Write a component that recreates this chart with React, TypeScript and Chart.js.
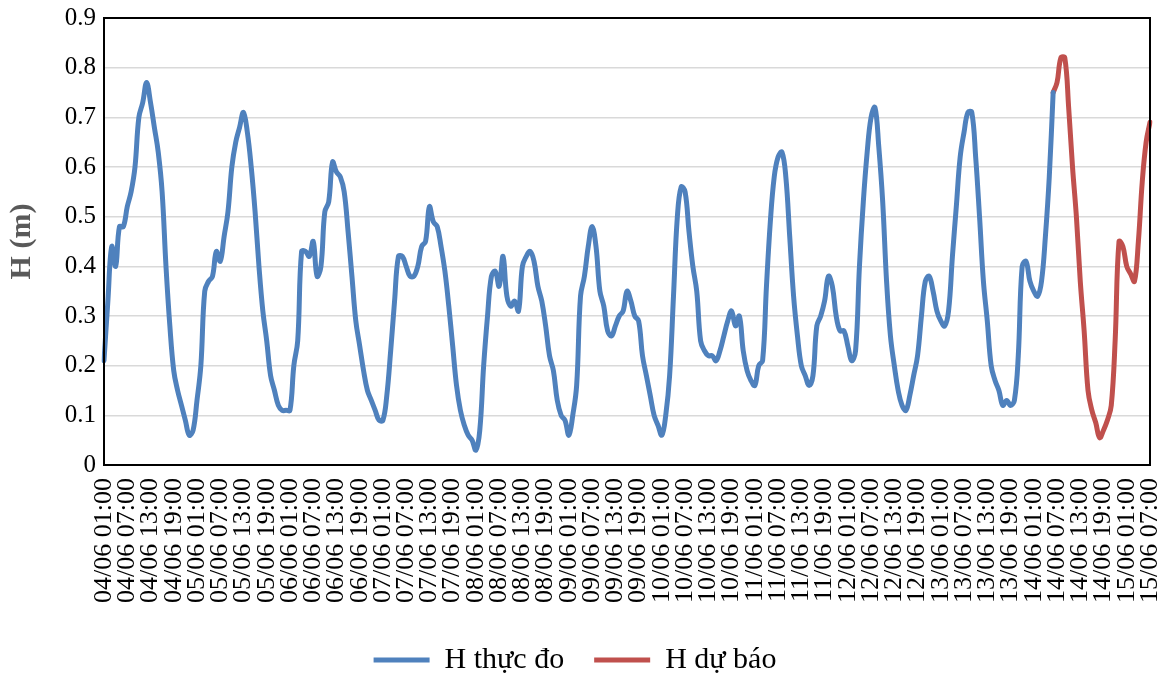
import React, { useEffect, useRef } from 'react';
import { Chart, registerables } from 'chart.js';

Chart.register(...registerables);

// hourly series, first value at 04/06 01:00
const START_DAY = 4;
const START_HOUR = 1;
const HOURS = 271;

// H thực đo (observed), 04/06 01:00 -> 14/06 06:00
const observed = [
    0.21, 0.33, 0.44, 0.40, 0.48, 0.48, 0.52, 0.55, 0.60, 0.70,
    0.73, 0.77, 0.73, 0.68, 0.63, 0.55, 0.40, 0.28, 0.19, 0.15,
    0.12, 0.09, 0.06, 0.07, 0.13, 0.20, 0.35, 0.37, 0.38, 0.43,
    0.41, 0.46, 0.51, 0.60, 0.65, 0.68, 0.71, 0.67, 0.60, 0.51,
    0.40, 0.31, 0.25, 0.18, 0.15, 0.12, 0.11, 0.11, 0.11, 0.20,
    0.25, 0.43, 0.43, 0.42, 0.45, 0.38, 0.40, 0.51, 0.53, 0.61,
    0.59, 0.58, 0.55, 0.47, 0.38, 0.29, 0.24, 0.19, 0.15, 0.13,
    0.11, 0.09, 0.09, 0.14, 0.23, 0.33, 0.42, 0.42, 0.40, 0.38,
    0.38, 0.40, 0.44, 0.45, 0.52, 0.49, 0.48, 0.44, 0.39, 0.32,
    0.24, 0.16, 0.11, 0.08, 0.06, 0.05, 0.03, 0.07, 0.20, 0.30,
    0.38, 0.39, 0.36, 0.42, 0.34, 0.32, 0.33, 0.31, 0.40, 0.42,
    0.43, 0.41, 0.36, 0.33, 0.28, 0.22, 0.19, 0.13, 0.10, 0.09,
    0.06, 0.10, 0.16, 0.34, 0.38, 0.44, 0.48, 0.44, 0.35, 0.32,
    0.27, 0.26, 0.28, 0.30, 0.31, 0.35, 0.33, 0.30, 0.29, 0.22,
    0.18, 0.14, 0.10, 0.08, 0.06, 0.10, 0.18, 0.34, 0.50, 0.56,
    0.55, 0.47, 0.40, 0.35, 0.25, 0.23, 0.22, 0.22, 0.21, 0.23,
    0.26, 0.29, 0.31, 0.28, 0.30, 0.23, 0.19, 0.17, 0.16, 0.20,
    0.21, 0.36, 0.49, 0.58, 0.62, 0.63, 0.58, 0.46, 0.34, 0.26,
    0.20, 0.18, 0.16, 0.18, 0.28, 0.30, 0.33, 0.38, 0.36, 0.30,
    0.27, 0.27, 0.24, 0.21, 0.23, 0.40, 0.53, 0.63, 0.70, 0.72,
    0.64, 0.53, 0.37, 0.26, 0.20, 0.15, 0.12, 0.11, 0.14, 0.18,
    0.22, 0.30, 0.37, 0.38, 0.35, 0.31, 0.29, 0.28, 0.31, 0.42,
    0.52, 0.62, 0.67, 0.71, 0.71, 0.62, 0.50, 0.37, 0.29, 0.20,
    0.17, 0.15, 0.12, 0.13, 0.12, 0.13, 0.22, 0.40, 0.41, 0.37,
    0.35, 0.34, 0.37, 0.46, 0.58, 0.75,
];

// H dự báo (forecast), 14/06 06:00 -> 15/06 07:00
const FORECAST_START = 245;
const forecast = [
    0.75, 0.77, 0.82, 0.82, 0.72, 0.60, 0.50, 0.37, 0.27, 0.15,
    0.11, 0.085, 0.055, 0.07, 0.09, 0.12, 0.25, 0.45, 0.44, 0.40,
    0.385, 0.37, 0.45, 0.57, 0.65, 0.69,
];

const seriesNames = ['H thực đo', 'H dự báo'];
const seriesColors = ['#4F81BD', '#C0504D'];

const FONT = "'Liberation Serif', 'Times New Roman', serif";

const pad2 = (n: number) => String(n).padStart(2, '0');

const hourLabels: string[] = [];
for (let h = 0; h < HOURS; h++) {
    const t = START_HOUR + h;
    hourLabels.push(`${pad2(START_DAY + Math.floor(t / 24))}/06 ${pad2(t % 24)}:00`);
}

const observedSeries = hourLabels.map((_, i) => (i < observed.length ? observed[i] : null));
const forecastSeries = hourLabels.map((_, i) =>
    i >= FORECAST_START && i - FORECAST_START < forecast.length ? forecast[i - FORECAST_START] : null
);

// black frame around the plot area
const plotFrame = {
    id: 'plotFrame',
    afterDraw(chart: Chart) {
        const { ctx, chartArea } = chart;
        ctx.save();
        ctx.strokeStyle = '#000000';
        ctx.lineWidth = 2;
        ctx.strokeRect(chartArea.left, chartArea.top, chartArea.right - chartArea.left, chartArea.bottom - chartArea.top);
        ctx.restore();
    },
};

const App: React.FC = () => {
    const canvasRef = useRef<HTMLCanvasElement>(null);

    useEffect(() => {
        document.body.style.margin = '0';
        if (!canvasRef.current) return;

        const chart = new Chart(canvasRef.current, {
            type: 'line',
            data: {
                labels: hourLabels,
                datasets: [
                    {
                        label: seriesNames[0],
                        data: observedSeries,
                        borderColor: seriesColors[0],
                        backgroundColor: seriesColors[0],
                        borderWidth: 5,
                        borderCapStyle: 'round',
                        borderJoinStyle: 'round',
                        pointRadius: 0,
                        tension: 0.4,
                    },
                    {
                        label: seriesNames[1],
                        data: forecastSeries,
                        borderColor: seriesColors[1],
                        backgroundColor: seriesColors[1],
                        borderWidth: 5,
                        borderCapStyle: 'round',
                        borderJoinStyle: 'round',
                        pointRadius: 0,
                        tension: 0.4,
                    },
                ],
            },
            options: {
                responsive: false,
                animation: false,
                layout: { padding: { top: 18, right: 18, left: 0, bottom: -7 } },
                plugins: {
                    legend: {
                        position: 'bottom',
                        labels: {
                            usePointStyle: true,
                            pointStyle: 'line',
                            pointStyleWidth: 56,
                            padding: 30,
                            color: '#000000',
                            font: { family: FONT, size: 30 },
                        },
                    },
                    tooltip: { enabled: false },
                },
                scales: {
                    x: {
                        offset: false,
                        grid: { display: false },
                        border: { display: false },
                        ticks: {
                            autoSkip: false,
                            minRotation: 90,
                            maxRotation: 90,
                            padding: 5,
                            color: '#000000',
                            font: { family: FONT, size: 26 },
                            callback: (_v, i) => (i % 6 === 0 ? hourLabels[i] : ''),
                        },
                        afterFit: (scale: any) => {
                            scale.height = 150;
                            scale.paddingLeft = 0;
                            scale.paddingRight = 0;
                        },
                    },
                    y: {
                        min: 0,
                        max: 0.9,
                        grid: { color: '#D9D9D9', lineWidth: 1.5, drawTicks: false },
                        border: { display: false },
                        ticks: {
                            stepSize: 0.1,
                            padding: 8,
                            color: '#000000',
                            font: { family: FONT, size: 25 },
                            callback: (v) => (Number(v) === 0 ? '0' : Number(v).toFixed(1)),
                        },
                        title: {
                            display: true,
                            text: 'H (m)',
                            color: '#595959',
                            font: { family: FONT, size: 30, weight: 'bold' },
                            padding: { top: 4, bottom: 4 },
                        },
                        afterFit: (scale: any) => {
                            scale.width = 104;
                            scale.paddingTop = 0;
                            scale.paddingBottom = 0;
                        },
                    },
                },
            },
            plugins: [plotFrame],
        });

        return () => chart.destroy();
    }, []);

    return (
        <div style={{ width: 1168, height: 678, background: '#FFFFFF' }}>
            <canvas ref={canvasRef} width={1168} height={678}></canvas>
        </div>
    );
};

export default App;
